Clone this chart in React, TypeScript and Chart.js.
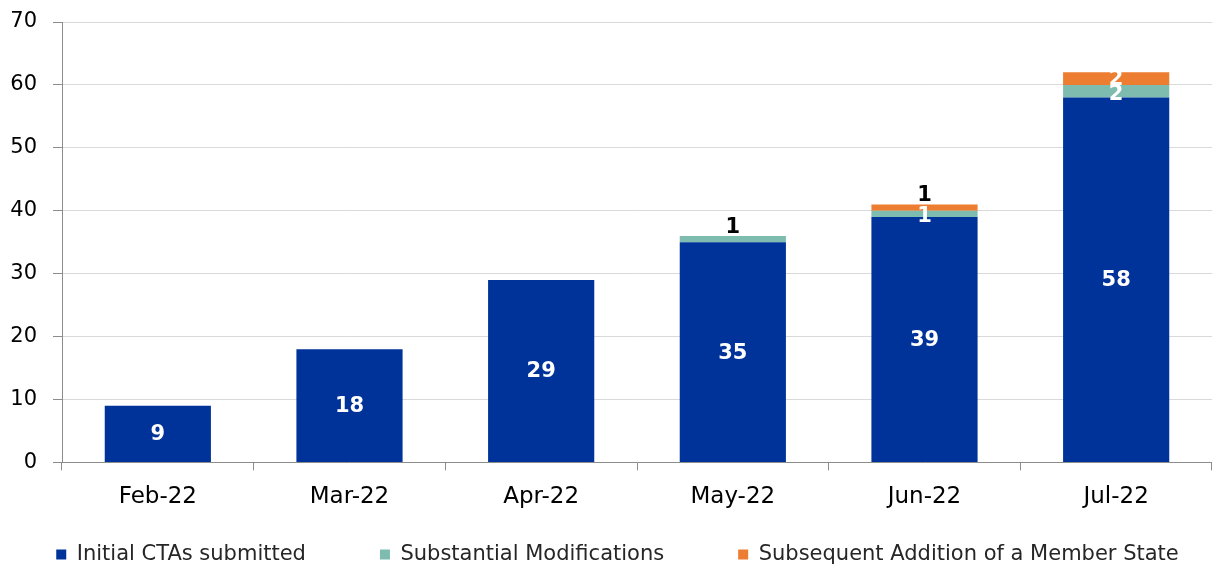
import React, { useEffect, useRef } from "react";
import { Chart, registerables } from "chart.js";

Chart.register(...registerables);

const categories = ["Feb-22", "Mar-22", "Apr-22", "May-22", "Jun-22", "Jul-22"];
const initialCTAs = [9, 18, 29, 35, 39, 58];
const substantialMods = [0, 0, 0, 1, 1, 2];
const subsequentAddition = [0, 0, 0, 0, 1, 2];
const seriesNames = [
  "Initial CTAs submitted",
  "Substantial Modifications",
  "Subsequent Addition of a Member State",
];
const yTicks = [0, 10, 20, 30, 40, 50, 60, 70];

const FONT = "'DejaVu Sans', Verdana, sans-serif";

const labelPlugin = {
  id: "stackLabels",
  afterDatasetsDraw(chart: any) {
    const ctx = chart.ctx;
    const nData = chart.data.datasets.length;
    ctx.save();
    ctx.font = `bold 21px ${FONT}`;
    ctx.textAlign = "center";
    for (let d = 0; d < nData; d++) {
      const meta = chart.getDatasetMeta(d);
      const data = chart.data.datasets[d].data as number[];
      meta.data.forEach((bar: any, i: number) => {
        const v = data[i];
        if (!v) return;
        let isTop = true;
        for (let k = d + 1; k < nData; k++) {
          if ((chart.data.datasets[k].data as number[])[i]) isTop = false;
        }
        const props = bar.getProps(["x", "y", "base"], true);
        if (isTop && v < 2 && d > 0) {
          ctx.fillStyle = "#000000";
          ctx.textBaseline = "alphabetic";
          ctx.fillText(String(v), props.x, props.y - 3);
        } else {
          ctx.fillStyle = "#ffffff";
          ctx.textBaseline = "middle";
          const shift = isTop || d === 0 ? 1 : 3;
          ctx.fillText(String(v), props.x, (props.y + props.base) / 2 + shift);
        }
      });
    }
    ctx.restore();
  },
};

// Keeps the wide horizontal legend spacing on one row without the matching vertical gap
const legendFitPlugin = {
  id: "legendFit",
  beforeLayout(chart: any) {
    const lg = chart.legend;
    if (lg && !lg.__wrapped) {
      const origFit = lg.fit;
      lg.fit = function () {
        const mw = this.maxWidth;
        this.maxWidth = mw + 400;
        origFit.call(this);
        this.maxWidth = mw;
        this.width = mw;
        this.height = 42;
      };
      const origDraw = lg.draw;
      lg.draw = function () {
        const l = this.left;
        const r = this.right;
        this.left = l - 286;
        this.right = r + 300;
        origDraw.call(this);
        this.left = l;
        this.right = r;
      };
      lg.__wrapped = true;
    }
  },
  afterLayout(chart: any) {
    const lg = chart.legend;
    if (lg) {
      lg.top = lg.bottom - 96;
      lg.height = lg.bottom - lg.top;
    }
  },
};

export default function App() {
  const ref = useRef<HTMLCanvasElement>(null);
  useEffect(() => {
    document.body.style.margin = "0";
    const chart = new Chart(ref.current!, {
      type: "bar",
      data: {
        labels: categories,
        datasets: [
          { label: seriesNames[0], data: initialCTAs, backgroundColor: "#003399" },
          { label: seriesNames[1], data: substantialMods, backgroundColor: "#7fbcb0" },
          { label: seriesNames[2], data: subsequentAddition, backgroundColor: "#ed7d31" },
        ],
      },
      options: {
        animation: false,
        responsive: false,
        maintainAspectRatio: false,
        layout: { padding: { top: 22, right: 0, left: 9, bottom: 0 } },
        datasets: { bar: { barPercentage: 0.554, categoryPercentage: 1 } },
        plugins: {
          tooltip: { enabled: false },
          legend: {
            position: "bottom",
            labels: {
              boxWidth: 10,
              boxHeight: 10,
              padding: 74,
              color: "#262626",
              font: { family: FONT, size: 21 },
            },
          },
        },
        scales: {
          x: {
            stacked: true,
            afterFit(scale: any) {
              scale.paddingLeft = 0;
              scale.paddingRight = 0;
            },
            grid: {
              drawOnChartArea: false,
              drawTicks: true,
              tickLength: 8,
              color: "#8c8c8c",
              offset: true,
            },
            border: { color: "#8c8c8c", width: 1 },
            ticks: {
              color: "#000000",
              font: { family: FONT, size: 23 },
              padding: 13,
            },
          },
          y: {
            stacked: true,
            min: 0,
            max: 70,
            afterBuildTicks(scale: any) {
              scale.ticks = yTicks.map((v) => ({ value: v }));
            },
            afterFit(scale: any) {
              scale.width = 53;
              scale.paddingTop = 0;
              scale.paddingBottom = 0;
            },
            grid: {
              color: "#d9d9d9",
              tickLength: 9,
              tickColor: "#8c8c8c",
            },
            border: { color: "#8c8c8c", width: 1 },
            ticks: {
              color: "#000000",
              font: { family: FONT, size: 21 },
              padding: 16,
            },
          },
        },
      },
      plugins: [labelPlugin, legendFitPlugin],
    });
    return () => chart.destroy();
  }, []);
  return (
    <div style={{ position: "absolute", left: 0, top: 0, width: 1212, height: 566 }}>
      <canvas ref={ref} width={1212} height={566} />
    </div>
  );
}
